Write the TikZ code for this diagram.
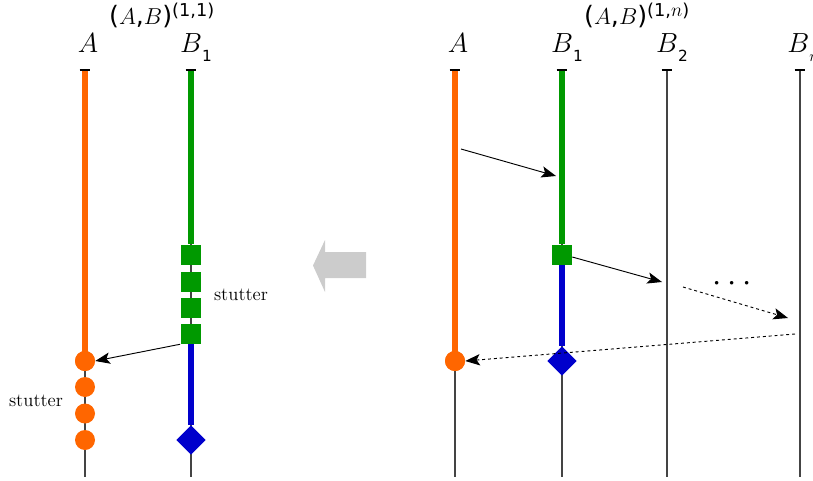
\documentclass[tikz,border=0pt]{standalone}
\usepackage{fontspec}
\newfontfamily\dv{DejaVu Sans}
\usetikzlibrary{arrows.meta,shapes.geometric}
\definecolor{aor}{HTML}{FF6600}
\definecolor{bgr}{HTML}{009900}
\definecolor{bbl}{HTML}{0000CC}
\definecolor{lgr}{HTML}{444444}
\definecolor{agr}{HTML}{CCCCCC}
\newcommand{\subdv}[1]{{\dv\fontsize{11.5}{13}\selectfont\raisebox{-6.5pt}{#1}}}
\tikzset{
  life/.style={draw=lgr,line width=1.1pt},
  thickor/.style={draw=aor,line width=3.8pt},
  thickgr/.style={draw=bgr,line width=3.8pt},
  thickbl/.style={draw=bbl,line width=3.8pt},
  tick/.style={draw=black,line width=0.8pt},
  evc/.style={circle,fill=aor,inner sep=0pt,minimum size=15pt},
  evs/.style={rectangle,fill=bgr,inner sep=0pt,minimum size=15pt},
  evd/.style={diamond,fill=bbl,inner sep=0pt,minimum size=22pt},
  msg/.style={draw=black,line width=0.7pt,-{Stealth[length=11pt,width=8.5pt,inset=2.5pt]}},
  dmsg/.style={msg,dash pattern=on 2.2pt off 2.2pt},
  lab/.style={anchor=base,inner sep=0pt,font=\fontsize{22}{26}\selectfont},
  ttl/.style={anchor=base,inner sep=0pt,font=\fontsize{19}{23}\selectfont},
  stut/.style={anchor=base,inner sep=0pt,font=\fontsize{14}{16}\selectfont},
}
\begin{document}
\begin{tikzpicture}[x=0.75pt,y=-0.75pt]
\useasboundingbox (0,0) rectangle (813,481);
% ---------------- left diagram ----------------
\node[ttl] (t1) at (162,25) {{\dv(}$A${\dv,}$B${\dv)}\textsuperscript{\dv(1,1)}};
\node[lab] (la) at (88,53) {$A$};
\node[lab] (lb) at (196,53) {$B$\subdv{1}};
% A lifeline
\coordinate (a1top) at (85,70);
\coordinate (a1bot) at (85,477);
\draw[life] (a1top) -- (a1bot);
\node[evc] (c1) at (85,361) {};
\node[evc] (c2) at (85,387) {};
\node[evc] (c3) at (85,413.5) {};
\node[evc] (c4) at (85,440) {};
\draw[thickor] (a1top) -- (c1.center);
\node[evc] at (85,361) {};
\draw[tick] ([xshift=-4pt]a1top) -- ([xshift=4pt]a1top);
% B1 lifeline
\coordinate (b1top) at (191,70);
\coordinate (b1bot) at (191,477);
\draw[life] (b1top) -- (b1bot);
\node[evs] (s1) at (191,254.5) {};
\node[evs] (s2) at (191,281.5) {};
\node[evs] (s3) at (191,308) {};
\node[evs] (s4) at (191,334) {};
\node[evd] (d1) at (191,440) {};
\draw[thickgr] (b1top) -- (s1.north);
\draw[thickbl] (s4.south) -- (d1.north);
\draw[tick] ([xshift=-4pt]b1top) -- ([xshift=4pt]b1top);
\node[stut] (st1) at (241,300) {stutter};
\node[stut] (st2) at (36,406) {stutter};
\draw[msg] ([xshift=-0.5pt]s4.south west) -- (c1.east);
% ---------------- gray arrow ----------------
\fill[agr] (366,252) -- (325,252) -- (325,240) -- (313,265.5) -- (325,292) -- (325,278) -- (366,278) -- cycle;
% ---------------- right diagram ----------------
\node[ttl] (t2) at (637,25) {{\dv(}$A${\dv,}$B${\dv)}\textsuperscript{\dv(1,$n$)}};
\node[lab] (ra) at (458,53) {$A$};
\node[lab] (rb1) at (567,53) {$B$\subdv{1}};
\node[lab] (rb2) at (672,53) {$B$\subdv{2}};
\node[lab] (rbn) at (803,53) {$B$\raisebox{-6.5pt}{\fontsize{11.5}{13}\selectfont$n$}};
\coordinate (a2top) at (455,70);
\coordinate (a2bot) at (455,477);
\coordinate (b2top) at (562,70);
\coordinate (b2bot) at (562,477);
\coordinate (c2top) at (667,70);
\coordinate (c2bot) at (667,477);
\coordinate (n2top) at (800,70);
\coordinate (n2bot) at (800,477);
\draw[life] (a2top) -- (a2bot);
\draw[life] (b2top) -- (b2bot);
\draw[life] (c2top) -- (c2bot);
\draw[life] (n2top) -- (n2bot);
\node[evc] (rc) at (455,361) {};
\draw[thickor] (a2top) -- (rc.center);
\node[evc] at (455,361) {};
\node[evs] (rs) at (562,254.5) {};
\node[evd] (rd) at (562,361) {};
\draw[thickgr] (b2top) -- (rs.north);
\draw[thickbl] (rs.south) -- (rd.north);
\foreach \p in {a2top,b2top,c2top,n2top}
  \draw[tick] ([xshift=-4pt]\p) -- ([xshift=4pt]\p);
\coordinate (m1s) at (461,149);
\coordinate (m1e) at (556,176);
\draw[msg] (m1s) -- (m1e);
\coordinate (m2e) at (662,282);
\draw[msg] (rs.east |- 0,257) -- (m2e);
\coordinate (m3s) at (683,287);
\coordinate (m3e) at (788,318);
\draw[dmsg] (m3s) -- (m3e);
\coordinate (m4s) at (795,334);
\draw[dmsg] (m4s) -- (rc.east);
\node[inner sep=0pt] (dots) at (732,284) {\fontsize{25}{28}\selectfont$\cdots$};
\end{tikzpicture}
\end{document}
